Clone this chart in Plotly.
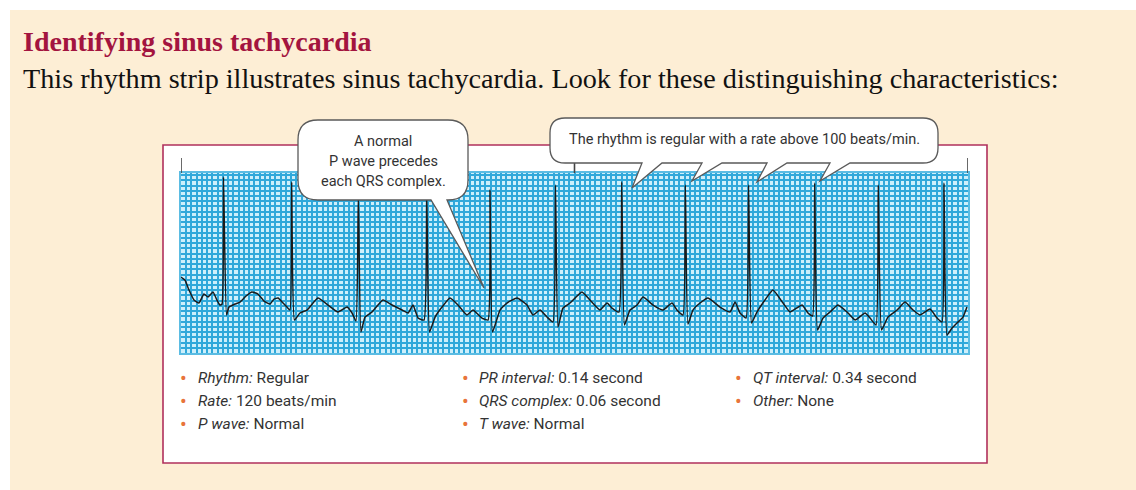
import plotly.graph_objects as go

# ---------------- data ----------------
ecg_time_s = [
    0.000, 0.030, 0.061, 0.099, 0.137, 0.175, 0.206, 0.244, 0.274, 0.297, 0.313,
    0.324, 0.347, 0.366, 0.412, 0.450, 0.496, 0.541, 0.587, 0.633, 0.679, 0.709, 0.740, 0.778, 0.808, 0.831,
    0.844, 0.865, 0.907, 0.961, 1.044, 1.121, 1.197, 1.266, 1.304, 1.334,
    1.352, 1.372, 1.403, 1.456, 1.540, 1.609, 1.685, 1.731, 1.769, 1.807, 1.853,
    1.873, 1.895, 1.937, 1.990, 2.051, 2.112, 2.180, 2.226, 2.295, 2.341,
    2.356, 2.375, 2.432, 2.485, 2.562, 2.638, 2.684, 2.737, 2.790, 2.836,
    2.855, 2.874, 2.912, 2.966, 3.057, 3.118, 3.194, 3.248, 3.286, 3.339,
    3.360, 3.381, 3.423, 3.477, 3.522, 3.599, 3.675, 3.743, 3.781, 3.827,
    3.845, 3.865, 3.903, 3.957, 4.018, 4.109, 4.186, 4.224, 4.262, 4.308,
    4.327, 4.350, 4.391, 4.452, 4.513, 4.590, 4.643, 4.735, 4.780, 4.815,
    4.831, 4.853, 4.895, 4.948, 5.009, 5.078, 5.139, 5.215, 5.253, 5.299,
    5.316, 5.341, 5.390, 5.459, 5.520, 5.581, 5.634, 5.710, 5.764, 5.802,
    5.817, 5.840, 5.878, 5.916, 5.962, 5.992,
]
ecg_mv = [
    0.352, 0.294, 0.103, -0.088, -0.145, 0.027, -0.031, 0.065, -0.088, -0.183, -0.164,
    2.263, -0.375, -0.222, -0.164, -0.126, -0.011, 0.065, 0.027, -0.107, -0.164, -0.069, -0.050, -0.145, -0.222, -0.279,
    2.167, -0.470, -0.336, -0.279, -0.050, -0.183, -0.317, -0.222, -0.336, -0.489,
    1.880, -0.699, -0.413, -0.317, -0.088, -0.183, -0.279, -0.336, -0.183, -0.432, -0.470,
    1.957, -0.699, -0.413, -0.222, -0.050, -0.183, -0.375, -0.279, -0.432, -0.470,
    2.014, -0.699, -0.279, -0.145, -0.050, -0.183, -0.375, -0.279, -0.413, -0.508,
    2.110, -0.604, -0.241, -0.145, 0.065, -0.088, -0.279, -0.145, -0.241, -0.317,
    2.167, -0.566, -0.279, -0.183, -0.031, -0.183, -0.279, -0.145, -0.279, -0.375,
    2.110, -0.547, -0.279, -0.145, -0.050, -0.222, -0.317, -0.126, -0.336, -0.432,
    2.110, -0.527, -0.317, -0.088, 0.103, -0.145, -0.317, -0.183, -0.336, -0.394,
    2.148, -0.661, -0.432, -0.317, -0.183, -0.317, -0.470, -0.336, -0.432, -0.566,
    2.110, -0.661, -0.413, -0.279, -0.126, -0.279, -0.375, -0.260, -0.432, -0.508,
    2.148, -0.757, -0.623, -0.527, -0.413, -0.222,
]
strip_marks_s = [0, 3, 6]

title_text = "Identifying sinus tachycardia"
subtitle_text = ("This rhythm strip illustrates sinus tachycardia. "
                 "Look for these distinguishing characteristics:")
callout_p_lines = ["A normal", "P wave precedes", "each QRS complex."]
callout_rate_text = "The rhythm is regular with a rate above 100 beats/min."

criteria_labels = [["Rhythm:", "Rate:", "P wave:"],
                   ["PR interval:", "QRS complex:", "T wave:"],
                   ["QT interval:", "Other:"]]
criteria_values = [["Regular", "120 beats/min", "Normal"],
                   ["0.14 second", "0.06 second", "Normal"],
                   ["0.34 second", "None"]]

# ---------------- layout geometry ----------------
FIG_W, FIG_H = 1136, 490
PL, PR, PT, PB = 181, 968, 173, 353   # plot area in pixels
PW, PH = PR - PL, PB - PT
X_RANGE = [0, 6]
Y_RANGE = [-1.1, 2.34]


def X(px):
    return (px - PL) / PW


def Y(py):
    return (PB - py) / PH


def pt(px, py):
    return f"{X(px):.5f},{Y(py):.5f}"


BEIGE = "#FDEED5"
GRID_BG = "#CDEFFB"
GRID_LINE = "#30A8DA"
CRIMSON = "#A3143F"
FRAME = "#B0305C"
OUTLINE = "#5a5a5a"
TEXT_GRAY = "#333333"
BULLET = "#E8743B"
SANS = "Roboto, 'Liberation Sans Narrow', Arial, sans-serif"
SERIF = "'Liberation Serif', 'Times New Roman', serif"

fig = go.Figure()
fig.add_trace(go.Scatter(
    x=ecg_time_s, y=ecg_mv, mode="lines",
    line=dict(color="#1a1a1a", width=1.5, shape="spline", smoothing=0.4),
    hoverinfo="skip", showlegend=False,
))

shapes = []
# beige page panel
shapes.append(dict(type="rect", xref="paper", yref="paper", layer="below",
                   x0=X(10), x1=X(FIG_W + 5), y0=Y(10), y1=Y(FIG_H + 5),
                   fillcolor=BEIGE, line=dict(width=0)))
# white framed box
shapes.append(dict(type="rect", xref="paper", yref="paper", layer="below",
                   x0=X(163), x1=X(987), y0=Y(145), y1=Y(463),
                   fillcolor="white", line=dict(color=FRAME, width=1.6)))
# grid background
shapes.append(dict(type="rect", xref="x", yref="y", layer="below",
                   x0=X_RANGE[0], x1=X_RANGE[1], y0=Y_RANGE[0], y1=Y_RANGE[1],
                   fillcolor=GRID_BG, line=dict(width=0)))
# 3-second marks above the strip
for t in strip_marks_s:
    shapes.append(dict(type="line", xref="x", yref="paper",
                       x0=t, x1=t, y0=Y(158), y1=Y(173),
                       line=dict(color="#444444", width=1.6)))

# callout 1 (P wave) with a long thin tail
x0, x1, y0, y1, r = 298, 468, 120, 200, 20
p1 = (f"M {pt(x0 + r, y0)} L {pt(x1 - r, y0)} Q {pt(x1, y0)} {pt(x1, y0 + r)} "
      f"L {pt(x1, y1 - r)} Q {pt(x1, y1)} {pt(x1 - r, y1)} "
      f"L {pt(447, y1)} L {pt(484, 288)} L {pt(431, y1)} "
      f"L {pt(x0 + r, y1)} Q {pt(x0, y1)} {pt(x0, y1 - r)} "
      f"L {pt(x0, y0 + r)} Q {pt(x0, y0)} {pt(x0 + r, y0)} Z")
shapes.append(dict(type="path", xref="paper", yref="paper", path=p1,
                   fillcolor="white", line=dict(color=OUTLINE, width=1.3)))

# callout 2 (rate) with four tails
x0, x1, y0, y1, r = 550, 938, 118, 163, 15
tails = [(820, 181), (757, 182), (692, 181), (632, 188)]
seg = ""
for tx, ty in tails:
    seg += f"L {pt(tx + 30, y1)} L {pt(tx, ty)} L {pt(tx + 10, y1)} "
p2 = (f"M {pt(x0 + r, y0)} L {pt(x1 - r, y0)} Q {pt(x1, y0)} {pt(x1, y0 + r)} "
      f"L {pt(x1, y1 - r)} Q {pt(x1, y1)} {pt(x1 - r, y1)} " + seg +
      f"L {pt(x0 + r, y1)} Q {pt(x0, y1)} {pt(x0, y1 - r)} "
      f"L {pt(x0, y0 + r)} Q {pt(x0, y0)} {pt(x0 + r, y0)} Z")
shapes.append(dict(type="path", xref="paper", yref="paper", path=p2,
                   fillcolor="white", line=dict(color=OUTLINE, width=1.3)))

annotations = []
annotations.append(dict(xref="paper", yref="paper", x=X(21), y=Y(41),
                        xanchor="left", yanchor="middle", showarrow=False,
                        text=f"<b>{title_text}</b>",
                        font=dict(family=SERIF, size=28, color=CRIMSON)))
annotations.append(dict(xref="paper", yref="paper", x=X(21), y=Y(78),
                        xanchor="left", yanchor="middle", showarrow=False,
                        text=subtitle_text,
                        font=dict(family=SERIF, size=28.2, color="#111111")))
for i, line in enumerate(callout_p_lines):
    annotations.append(dict(xref="paper", yref="paper", x=X(383), y=Y(141 + 20 * i),
                            xanchor="center", yanchor="middle", showarrow=False,
                            text=line, font=dict(family=SANS, size=14.5, color=TEXT_GRAY)))
annotations.append(dict(xref="paper", yref="paper", x=X(744), y=Y(139),
                        xanchor="center", yanchor="middle", showarrow=False,
                        text=callout_rate_text,
                        font=dict(family=SANS, size=14.5, color=TEXT_GRAY)))

col_bullet_px = [183, 465, 738]
col_text_px = [196, 477, 751]
row_py = [378, 401, 424]
for c, (labels, values) in enumerate(zip(criteria_labels, criteria_values)):
    for rI, (lab, val) in enumerate(zip(labels, values)):
        annotations.append(dict(xref="paper", yref="paper", x=X(col_bullet_px[c]), y=Y(row_py[rI]),
                                xanchor="center", yanchor="middle", showarrow=False,
                                text="•", font=dict(family=SANS, size=20, color=BULLET)))
        annotations.append(dict(xref="paper", yref="paper", x=X(col_text_px[c]), y=Y(row_py[rI]),
                                xanchor="left", yanchor="middle", showarrow=False,
                                text=f"<i>{lab}</i> {val}",
                                font=dict(family=SANS, size=15.5, color=TEXT_GRAY)))

fig.update_layout(
    width=FIG_W, height=FIG_H,
    margin=dict(l=PL, r=FIG_W - PR, t=PT, b=FIG_H - PB, pad=0),
    paper_bgcolor="white", plot_bgcolor=GRID_BG,
    shapes=shapes, annotations=annotations, showlegend=False,
    xaxis=dict(range=X_RANGE, tick0=0, dtick=0.04, showgrid=True, gridcolor=GRID_LINE,
               gridwidth=1.6, zeroline=False, showticklabels=False, ticks="",
               showline=True, linecolor="#5BBCE3", linewidth=1.5, mirror=True, fixedrange=True),
    yaxis=dict(range=Y_RANGE, tick0=0, dtick=0.1, showgrid=True, gridcolor=GRID_LINE,
               gridwidth=1.6, zeroline=False, showticklabels=False, ticks="",
               showline=True, linecolor="#5BBCE3", linewidth=1.5, mirror=True, fixedrange=True),
)

fig.write_html("out.html", config={"displayModeBar": False},
               post_script="document.body.style.margin='0';")
